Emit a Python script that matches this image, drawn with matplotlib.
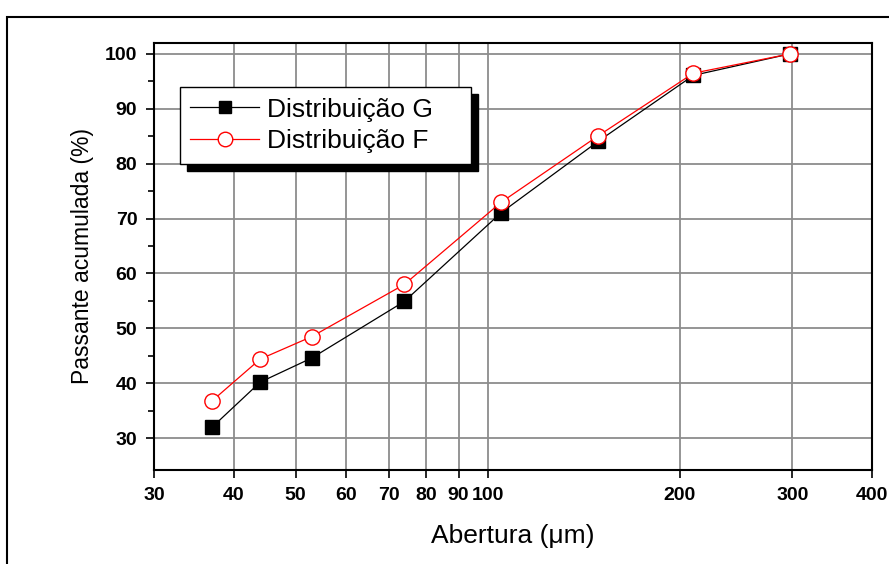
import matplotlib
matplotlib.use("Agg")
import matplotlib.pyplot as plt
from matplotlib import font_manager
from matplotlib.patches import Rectangle
from matplotlib.ticker import FixedLocator, NullLocator
import numpy as np

# dados
abertura = [37, 44, 53, 74, 105, 149, 210, 297]
dist_g = [32.0, 40.2, 44.6, 54.9, 71.1, 84.1, 96.1, 100.0]
dist_f = [36.8, 44.4, 48.5, 58.0, 73.0, 85.1, 96.5, 100.0]
xticks = [30, 40, 50, 60, 70, 80, 90, 100, 200, 300, 400]
xticklabels = ["30", "40", "50", "60", "70", "80", "90", "100", "200", "300", "400"]
yticks = [30, 40, 50, 60, 70, 80, 90, 100]

names = {f.name for f in font_manager.fontManager.ttflist}
narrow = "Liberation Sans Narrow" if "Liberation Sans Narrow" in names else "Liberation Sans"
plt.rcParams['font.family'] = ['Liberation Sans', 'DejaVu Sans']

fig = plt.figure(figsize=(8.89, 5.64), dpi=100)
ax = fig.add_axes([0.1732, 0.1667, 0.8078, 0.7571])

# moldura externa
fig.patches.append(Rectangle((0.008, -0.1), 1.2, 1.07, transform=fig.transFigure,
                             fill=False, edgecolor='k', linewidth=1.5))

ax.plot(abertura, dist_g, color='k', lw=0.9, marker='s', ms=9.5,
        mfc='k', mec='k', label='Distribuição G', zorder=3)
ax.plot(abertura, dist_f, color='red', lw=0.9, marker='o', ms=11,
        mfc='white', mec='red', mew=1.0, label='Distribuição F', zorder=4)

ax.set_xscale('log')
ax.set_xlim(30, 400)
ax.set_ylim(24.2, 102)

ax.xaxis.set_major_locator(FixedLocator(xticks))
ax.xaxis.set_minor_locator(NullLocator())
ax.set_xticklabels(xticklabels)
ax.set_yticks(yticks)
ax.set_yticks(np.arange(35, 101, 10), minor=True)

ax.grid(True, which='major', color='#8c8c8c', linewidth=1.3)
ax.set_axisbelow(True)

for lab in ax.get_xticklabels() + ax.get_yticklabels():
    lab.set_fontfamily(narrow)
    lab.set_fontweight('bold')
    lab.set_fontsize(14)

ax.tick_params(axis='both', which='major', direction='out', length=6, width=1.2, pad=6)
ax.tick_params(axis='y', which='minor', direction='out', length=4, width=1.2)
for sp in ax.spines.values():
    sp.set_linewidth(1.5)

ax.set_xlabel("Abertura (μm)", fontsize=19, labelpad=15)
ax.set_ylabel("Passante acumulada (%)", fontsize=16.5, labelpad=8)

leg = ax.legend(loc='upper left', bbox_to_anchor=(0.036, 0.897, 0.405, 0.0),
                mode='expand', fontsize=19, markerscale=0.95,
                frameon=True, fancybox=False, edgecolor='k', framealpha=1,
                handlelength=2.6, borderpad=0.4, labelspacing=0.3,
                handletextpad=0.3, borderaxespad=0)
leg.get_frame().set_linewidth(1.0)
leg.set_zorder(10)

# sombra preta da legenda
fig.canvas.draw()
bb = leg.get_window_extent().transformed(ax.transAxes.inverted())
dx = 7 / (0.8078 * 889)
dy = 7 / (0.7571 * 564)
ax.add_patch(Rectangle((bb.x0 + dx, bb.y0 - dy), bb.width, bb.height,
                       transform=ax.transAxes, facecolor='k', edgecolor='k',
                       zorder=9, clip_on=False))

fig.savefig("out.png", dpi=100)
